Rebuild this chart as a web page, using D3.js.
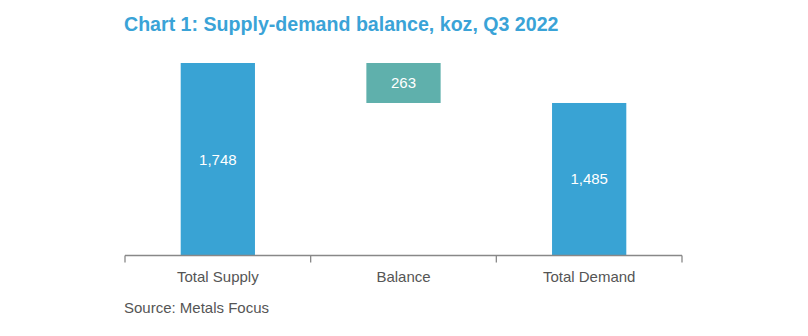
<!DOCTYPE html>
<html>
<head>
<meta charset="utf-8">
<script src="https://cdn.jsdelivr.net/npm/d3@7"></script>
<style>
  html, body { margin: 0; padding: 0; background: #fff; }
  svg { display: block; font-family: "Liberation Sans", Arial, sans-serif; }
</style>
</head>
<body>
<svg id="chart" width="808" height="336"></svg>
<script>
// Supply-demand balance, koz
const categories = ["Total Supply", "Balance", "Total Demand"];
const totalSupply = 1748;
const totalDemand = 1485;
const balance = totalSupply - totalDemand; // 263
const valueLabels = ["1,748", "263", "1,485"];
const axisMin = 482;

// Waterfall segments: [start, end]
const segments = [
  { cat: categories[0], from: axisMin, to: totalSupply, label: valueLabels[0], kind: "total" },
  { cat: categories[1], from: totalDemand, to: totalDemand + balance, label: valueLabels[1], kind: "balance" },
  { cat: categories[2], from: axisMin, to: totalDemand, label: valueLabels[2], kind: "total" }
];

const svg = d3.select("#chart");
const margin = { left: 125, right: 126, top: 63, bottom: 80.5 };
const W = 808, H = 336;

const x = d3.scaleBand()
  .domain(categories)
  .range([margin.left, W - margin.right])
  .paddingInner(0.6)
  .paddingOuter(0.3);

const y = d3.scaleLinear()
  .domain([axisMin, totalSupply])
  .range([H - margin.bottom, margin.top]);

const colors = { total: "#39a3d4", balance: "#5fb0ac" };
const textColor = "#555555";

svg.append("text")
  .attr("x", 124)
  .attr("y", 31)
  .attr("fill", "#3aa3d7")
  .attr("font-weight", "bold")
  .attr("font-size", 19.6)
  .text("Chart 1: Supply-demand balance, koz, Q3 2022");

svg.append("g")
  .selectAll("rect")
  .data(segments)
  .join("rect")
  .attr("x", d => x(d.cat))
  .attr("width", x.bandwidth())
  .attr("y", d => y(d.to))
  .attr("height", d => y(d.from) - y(d.to))
  .attr("fill", d => colors[d.kind]);

svg.append("g")
  .selectAll("text")
  .data(segments)
  .join("text")
  .attr("x", d => x(d.cat) + x.bandwidth() / 2)
  .attr("y", d => (y(d.from) + y(d.to)) / 2)
  .attr("dy", "0.35em")
  .attr("text-anchor", "middle")
  .attr("fill", "#fff")
  .attr("font-size", 15)
  .text(d => d.label);

// Category axis with boundary ticks between categories
const baseY = y(axisMin);
const step = (W - margin.right - margin.left) / categories.length;
const axisG = svg.append("g").attr("stroke", "#888").attr("stroke-width", 1.3);
axisG.append("line")
  .attr("x1", margin.left).attr("x2", W - margin.right)
  .attr("y1", baseY).attr("y2", baseY);
axisG.selectAll("line.tick")
  .data(d3.range(categories.length + 1))
  .join("line")
  .attr("class", "tick")
  .attr("x1", i => margin.left + i * step)
  .attr("x2", i => margin.left + i * step)
  .attr("y1", baseY)
  .attr("y2", baseY + 7);

svg.append("g")
  .selectAll("text")
  .data(categories)
  .join("text")
  .attr("x", d => x(d) + x.bandwidth() / 2)
  .attr("y", 282)
  .attr("text-anchor", "middle")
  .attr("fill", textColor)
  .attr("font-size", 15)
  .text(d => d);

svg.append("text")
  .attr("x", 124)
  .attr("y", 313)
  .attr("fill", textColor)
  .attr("font-size", 15)
  .text("Source: Metals Focus");
</script>
</body>
</html>
